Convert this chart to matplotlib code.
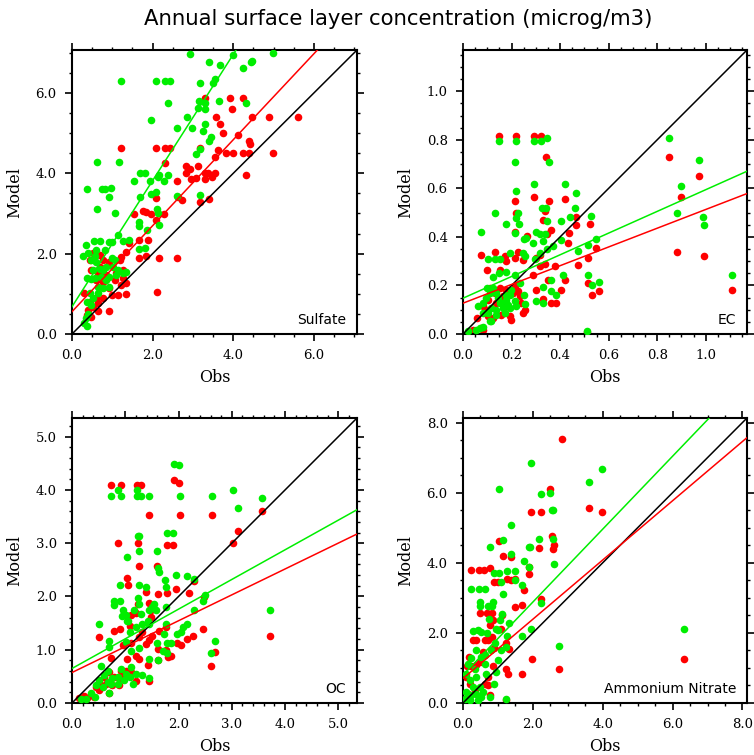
import numpy as np
import matplotlib
matplotlib.use("Agg")
import matplotlib.pyplot as plt
from matplotlib.ticker import MultipleLocator, FormatStrFormatter

title = "Annual surface layer concentration (microg/m3)"
species = ["Sulfate", "EC", "OC", "Ammonium Nitrate"]
axis_max = [7.07, 1.17, 5.35, 8.13]
major_step = [2.0, 0.2, 1.0, 2.0]
minor_step = [0.5, 0.05, 0.2, 0.5]
# regression lines (intercept, slope)
red_fit = [(0.556, 1.07), (0.127, 0.386), (0.572, 0.486), (0.70, 0.845)]
green_fit = [(0.68, 1.57), (0.1475, 0.447), (0.648, 0.557), (0.80, 1.04)]

# (obs, model) pairs
sulfate_red = [
    (3.31, 5.87), (3.91, 5.88), (4.24, 5.88), (3.97, 5.59), (3.56, 5.39), (3.68, 5.24),
    (4.47, 5.41), (4.88, 5.41), (5.61, 5.39), (3.74, 5.01), (4.12, 4.95), (4.39, 4.81),
    (4.42, 4.73), (1.21, 4.62), (2.08, 4.62), (2.30, 4.62), (2.42, 4.62), (3.17, 4.62),
    (3.62, 4.58), (3.55, 4.41), (3.81, 4.51), (3.99, 4.51), (4.24, 4.51), (4.39, 4.50),
    (4.99, 4.51), (2.31, 4.25), (2.83, 4.18), (2.93, 4.12), (3.12, 4.19), (2.82, 4.02),
    (2.94, 3.85), (3.08, 3.88), (3.31, 4.02), (3.37, 4.00), (3.31, 3.87), (3.48, 3.92),
    (3.54, 4.02), (2.60, 3.82), (4.32, 3.95), (2.09, 3.38), (2.63, 3.42), (2.74, 3.34),
    (3.18, 3.29), (3.39, 3.36), (1.55, 2.99), (1.76, 3.05), (1.83, 3.03), (1.97, 2.99),
    (2.29, 2.98), (2.09, 2.84), (1.66, 2.34), (1.88, 2.34), (1.41, 2.26), (1.35, 2.05),
    (1.22, 1.91), (1.65, 1.88), (1.84, 1.93), (2.17, 1.88), (2.60, 1.88), (2.12, 1.05),
    (0.91, 0.57), (0.64, 0.57), (0.52, 2.01), (0.69, 1.97), (0.44, 1.84), (0.77, 1.84),
    (0.93, 1.80), (1.18, 1.84), (0.48, 1.59), (0.64, 1.51), (0.85, 1.47), (1.10, 1.51),
    (1.26, 1.39), (1.35, 1.26), (1.22, 1.22), (1.14, 0.97), (1.35, 1.00), (0.98, 0.97),
    (0.77, 0.89), (0.60, 0.89), (0.44, 0.80), (0.52, 0.68), (0.40, 0.60), (0.36, 0.47),
    (0.48, 0.43), (0.64, 0.76), (0.93, 1.14), (1.06, 1.34), (0.77, 1.30), (0.60, 1.34),
    (0.31, 1.01), (1.26, 1.59), (0.69, 1.68),
]
sulfate_green = [
    (2.92, 6.97), (3.99, 6.95), (4.98, 7.00), (3.39, 6.78), (3.66, 6.70), (4.46, 6.80),
    (4.43, 6.76), (4.24, 6.63), (1.21, 6.29), (2.08, 6.29), (2.30, 6.29), (2.42, 6.29),
    (3.17, 6.24), (3.54, 6.34), (3.51, 6.26), (2.39, 5.74), (3.15, 5.81), (3.31, 5.76),
    (3.64, 5.80), (4.32, 5.74), (3.12, 5.62), (3.31, 5.60), (1.95, 5.33), (2.85, 5.39),
    (3.31, 5.24), (2.60, 5.12), (2.98, 5.14), (3.25, 5.06), (3.44, 4.91), (3.41, 4.81),
    (3.17, 4.61), (3.08, 4.48), (0.62, 4.27), (1.17, 4.27), (1.68, 4.02), (1.82, 4.02),
    (2.14, 3.92), (2.17, 3.96), (1.94, 3.82), (2.27, 3.82), (2.39, 3.97), (1.55, 3.82),
    (0.36, 3.61), (0.75, 3.61), (0.81, 3.61), (0.96, 3.64), (0.93, 3.42), (1.68, 3.42),
    (1.97, 3.49), (2.09, 3.53), (2.60, 3.43), (3.17, 3.46), (0.62, 3.10), (1.06, 3.02),
    (2.12, 3.10), (2.13, 3.02), (2.17, 2.71), (1.66, 2.80), (1.65, 2.69), (1.87, 2.59),
    (1.14, 2.46), (0.34, 2.22), (0.54, 2.31), (0.69, 2.32), (0.93, 2.30), (0.98, 2.28),
    (1.26, 2.31), (1.41, 2.33), (1.65, 2.11), (1.82, 2.14), (0.27, 1.93), (0.40, 2.01),
    (0.48, 1.84), (0.60, 1.80), (0.52, 1.59), (0.69, 1.63), (0.77, 1.59), (0.85, 1.68),
    (1.02, 1.68), (0.36, 1.39), (0.48, 1.36), (0.56, 1.39), (0.73, 1.43), (0.93, 1.43),
    (1.10, 1.47), (1.26, 1.51), (1.35, 1.55), (0.64, 1.18), (0.77, 1.14), (0.93, 1.18),
    (0.44, 1.01), (0.52, 0.89), (0.64, 1.01), (0.36, 0.80), (0.48, 0.72), (0.40, 0.51),
    (0.34, 0.39), (0.36, 0.20), (0.29, 0.27), (0.56, 1.93), (0.98, 1.88), (0.81, 2.09),
    (0.60, 2.09), (1.06, 1.84), (0.85, 1.34), (1.14, 1.59),
]
ec_red = [
    (0.147, 0.815), (0.217, 0.815), (0.293, 0.815), (0.323, 0.815), (0.341, 0.729),
    (0.847, 0.729), (0.973, 0.652), (0.899, 0.564), (0.293, 0.564), (0.213, 0.547),
    (0.353, 0.547), (0.421, 0.558), (0.217, 0.499), (0.330, 0.471), (0.337, 0.506),
    (0.465, 0.482), (0.465, 0.451), (0.522, 0.455), (0.344, 0.410), (0.362, 0.427),
    (0.437, 0.416), (0.265, 0.405), (0.213, 0.419), (0.433, 0.375), (0.546, 0.355),
    (0.882, 0.338), (0.992, 0.320), (0.073, 0.324), (0.131, 0.338), (0.227, 0.338),
    (0.316, 0.327), (0.474, 0.286), (0.515, 0.313), (0.247, 0.304), (0.172, 0.320),
    (0.213, 0.313), (0.179, 0.300), (0.302, 0.313), (0.151, 0.265), (0.099, 0.265),
    (0.316, 0.279), (0.337, 0.290), (0.378, 0.282), (0.289, 0.245), (0.351, 0.224),
    (0.419, 0.224), (0.300, 0.183), (0.405, 0.183), (0.330, 0.144), (0.364, 0.128),
    (0.385, 0.128), (0.515, 0.210), (0.533, 0.162), (0.561, 0.176), (1.107, 0.183),
    (0.509, 0.007), (0.073, 0.023), (0.082, 0.018), (0.041, 0.018), (0.059, 0.066),
    (0.082, 0.114), (0.103, 0.142), (0.110, 0.190), (0.131, 0.169), (0.151, 0.190),
    (0.179, 0.183), (0.206, 0.169), (0.234, 0.155), (0.103, 0.073), (0.124, 0.066),
    (0.158, 0.080), (0.192, 0.073), (0.199, 0.059), (0.247, 0.087), (0.254, 0.098),
    (0.137, 0.128), (0.179, 0.114), (0.213, 0.197), (0.227, 0.176), (0.240, 0.128),
    (0.096, 0.100), (0.165, 0.155),
]
ec_green = [
    (0.147, 0.797), (0.217, 0.797), (0.293, 0.797), (0.323, 0.797), (0.344, 0.808),
    (0.847, 0.808), (0.973, 0.716), (0.355, 0.709), (0.213, 0.709), (0.899, 0.609),
    (0.882, 0.499), (0.990, 0.481), (0.992, 0.451), (1.107, 0.245), (0.293, 0.619),
    (0.217, 0.591), (0.421, 0.616), (0.467, 0.579), (0.131, 0.499), (0.227, 0.499),
    (0.176, 0.454), (0.327, 0.520), (0.341, 0.520), (0.463, 0.520), (0.440, 0.481),
    (0.405, 0.465), (0.346, 0.465), (0.220, 0.478), (0.231, 0.454), (0.073, 0.419),
    (0.213, 0.416), (0.302, 0.419), (0.316, 0.412), (0.337, 0.410), (0.330, 0.385),
    (0.405, 0.389), (0.526, 0.485), (0.515, 0.366), (0.546, 0.392), (0.474, 0.341),
    (0.371, 0.362), (0.261, 0.396), (0.252, 0.392), (0.192, 0.334), (0.131, 0.307),
    (0.154, 0.309), (0.103, 0.309), (0.247, 0.334), (0.254, 0.320), (0.296, 0.307),
    (0.316, 0.334), (0.344, 0.351), (0.289, 0.375), (0.179, 0.254), (0.148, 0.252),
    (0.124, 0.235), (0.099, 0.190), (0.214, 0.245), (0.234, 0.210), (0.252, 0.162),
    (0.254, 0.124), (0.300, 0.135), (0.330, 0.128), (0.330, 0.192), (0.362, 0.221),
    (0.364, 0.176), (0.385, 0.162), (0.410, 0.245), (0.515, 0.245), (0.533, 0.203),
    (0.561, 0.214), (0.509, 0.011), (0.062, 0.114), (0.082, 0.128), (0.096, 0.148),
    (0.110, 0.169), (0.124, 0.190), (0.137, 0.169), (0.144, 0.148), (0.158, 0.128),
    (0.179, 0.142), (0.192, 0.162), (0.199, 0.183), (0.213, 0.135), (0.117, 0.107),
    (0.137, 0.100), (0.165, 0.107), (0.192, 0.107), (0.220, 0.114), (0.103, 0.087),
    (0.137, 0.080), (0.172, 0.087), (0.110, 0.052), (0.151, 0.128), (0.186, 0.121),
    (0.179, 0.162), (0.082, 0.087), (0.021, 0.011), (0.055, 0.015), (0.069, 0.025),
    (0.082, 0.029), (0.114, 0.052),
]
oc_red = [
    (0.74, 4.09), (0.92, 4.09), (1.22, 4.09), (1.29, 4.09), (1.92, 4.18), (2.01, 4.13),
    (1.44, 3.52), (2.03, 3.52), (2.62, 3.52), (3.56, 3.61), (3.11, 3.22), (3.02, 3.01),
    (0.86, 3.01), (1.23, 3.01), (1.78, 2.97), (1.89, 2.97), (1.26, 2.58), (1.59, 2.58),
    (1.03, 2.35), (1.06, 2.22), (2.29, 2.29), (2.20, 2.07), (1.96, 2.14), (1.39, 2.09),
    (1.62, 2.04), (1.78, 2.06), (1.44, 1.88), (1.24, 1.86), (1.48, 1.74), (1.20, 1.69),
    (1.11, 1.66), (1.48, 1.61), (2.47, 1.99), (2.45, 1.38), (2.28, 1.25), (2.16, 1.21),
    (2.04, 1.09), (1.98, 1.13), (0.51, 1.24), (0.78, 1.36), (0.91, 1.38), (1.08, 1.44),
    (1.31, 1.33), (1.26, 1.24), (1.64, 1.36), (1.76, 1.43), (1.51, 1.25), (1.44, 1.19),
    (0.95, 1.08), (1.11, 1.13), (1.38, 1.10), (1.62, 1.02), (1.76, 1.00), (1.80, 0.86),
    (1.86, 0.88), (1.62, 0.80), (0.74, 0.85), (1.04, 0.83), (1.21, 0.89), (1.26, 0.83),
    (1.43, 0.71), (2.69, 0.96), (2.61, 0.69), (3.71, 1.25), (0.69, 0.18), (0.45, 0.30),
    (0.51, 0.39), (0.61, 0.49), (0.70, 0.58), (0.79, 0.49), (0.89, 0.46), (0.98, 0.49),
    (1.01, 0.61), (0.92, 0.61), (0.64, 0.36), (0.76, 0.33), (0.89, 0.33), (1.20, 0.41),
    (1.44, 0.41), (1.11, 0.58), (0.51, 0.24), (0.42, 0.11), (0.23, 0.13), (0.14, 0.10),
    (0.29, 0.10),
]
oc_green = [
    (1.92, 4.49), (2.01, 4.46), (0.74, 3.89), (0.86, 3.99), (0.92, 3.89), (1.22, 3.99),
    (1.22, 3.89), (1.29, 3.89), (1.44, 3.89), (2.03, 3.89), (2.62, 3.89), (3.02, 3.99),
    (3.56, 3.84), (3.11, 3.66), (1.78, 3.19), (1.89, 3.19), (1.23, 3.13), (1.26, 3.13),
    (1.26, 2.86), (1.59, 2.86), (1.03, 2.75), (1.61, 2.54), (1.64, 2.46), (1.95, 2.41),
    (2.16, 2.39), (1.74, 2.31), (0.91, 2.22), (1.26, 2.22), (1.39, 2.18), (1.76, 2.18),
    (2.29, 2.33), (0.78, 1.91), (0.90, 1.91), (0.78, 1.84), (1.24, 1.97), (1.25, 1.86),
    (1.54, 1.86), (1.50, 1.80), (1.76, 1.81), (1.58, 1.74), (1.45, 1.74), (0.95, 1.75),
    (0.94, 1.64), (1.01, 1.66), (1.17, 1.74), (1.29, 1.68), (1.06, 1.54), (1.03, 1.54),
    (2.29, 1.75), (2.45, 1.91), (2.49, 2.03), (3.71, 1.75), (0.51, 1.49), (1.42, 1.53),
    (1.31, 1.49), (1.44, 1.49), (1.08, 1.33), (1.21, 1.43), (1.76, 1.49), (2.16, 1.49),
    (2.09, 1.43), (2.04, 1.33), (1.98, 1.29), (1.73, 1.29), (1.59, 1.13), (1.79, 1.13),
    (1.86, 1.13), (0.69, 1.16), (0.70, 1.05), (1.01, 1.14), (1.26, 1.04), (1.11, 0.98),
    (1.44, 0.82), (1.61, 0.80), (1.70, 0.98), (1.79, 0.93), (2.69, 1.16), (2.61, 0.94),
    (0.54, 0.69), (1.20, 0.55), (1.31, 0.52), (1.44, 0.47), (0.45, 0.33), (0.51, 0.43),
    (0.61, 0.52), (0.67, 0.61), (0.76, 0.46), (0.86, 0.49), (0.92, 0.64), (1.01, 0.55),
    (1.11, 0.68), (0.73, 0.36), (0.86, 0.36), (0.98, 0.43), (0.58, 0.30), (0.70, 0.18),
    (0.67, 0.39), (1.08, 0.49), (0.36, 0.18), (0.44, 0.11), (0.17, 0.08), (0.26, 0.08),
    (1.14, 0.36),
]
nitrate_red = [
    (2.83, 7.52), (2.50, 6.10), (3.62, 5.57), (3.98, 5.46), (1.96, 5.46), (2.22, 5.44),
    (1.02, 4.62), (2.54, 4.76), (2.60, 4.50), (2.57, 4.40), (2.17, 4.41), (1.14, 4.19),
    (1.38, 4.17), (1.90, 3.87), (1.90, 3.68), (0.24, 3.79), (0.46, 3.79), (0.59, 3.79),
    (0.76, 3.86), (0.89, 3.44), (1.00, 3.44), (1.26, 3.55), (1.36, 3.50), (1.50, 3.55),
    (1.76, 3.22), (2.24, 2.98), (1.50, 2.74), (1.70, 2.79), (0.48, 2.57), (0.69, 2.57),
    (0.83, 2.57), (0.86, 2.36), (1.12, 2.50), (0.76, 2.22), (0.84, 1.89), (1.10, 2.12),
    (0.29, 1.79), (0.38, 1.79), (0.62, 1.79), (0.71, 1.79), (0.90, 1.58), (1.24, 1.70),
    (1.33, 1.55), (1.97, 1.25), (2.76, 0.97), (1.70, 0.84), (1.24, 0.98), (1.30, 0.84),
    (6.33, 1.25), (0.11, 1.05), (0.24, 1.05), (0.38, 1.08), (0.86, 1.05), (0.71, 0.74),
    (0.62, 0.55), (0.71, 0.50), (0.76, 0.22), (0.48, 1.17), (0.17, 1.31), (0.57, 1.46),
    (1.24, 0.08), (0.10, 0.74), (0.19, 0.55), (0.33, 0.36), (0.14, 0.27), (0.48, 0.17),
    (0.08, 0.12),
]
nitrate_green = [
    (1.96, 6.86), (3.98, 6.67), (3.62, 6.30), (1.02, 6.10), (2.22, 5.95), (2.50, 6.00),
    (2.54, 5.50), (2.59, 5.50), (1.38, 5.08), (2.17, 4.68), (2.57, 4.68), (1.14, 4.65),
    (0.76, 4.46), (1.89, 4.46), (1.92, 4.46), (1.36, 4.25), (1.76, 4.05), (1.90, 3.89),
    (2.60, 3.96), (0.89, 3.70), (1.02, 3.70), (1.26, 3.77), (1.49, 3.77), (1.10, 3.44),
    (1.50, 3.50), (1.70, 3.38), (0.24, 3.24), (0.46, 3.24), (0.62, 3.24), (1.14, 3.12),
    (2.24, 2.86), (0.48, 2.89), (0.48, 2.77), (0.71, 2.77), (0.86, 2.89), (0.83, 2.77),
    (0.74, 2.41), (1.05, 2.36), (1.12, 2.55), (1.33, 2.27), (0.29, 2.05), (0.43, 2.08),
    (0.52, 2.03), (0.69, 2.00), (0.95, 2.12), (1.00, 2.08), (1.96, 2.10), (1.27, 1.90),
    (1.69, 1.90), (0.38, 1.52), (0.81, 1.52), (0.93, 1.70), (1.08, 1.52), (1.24, 1.60),
    (2.76, 1.62), (6.33, 2.10), (0.52, 1.31), (0.62, 1.36), (0.24, 1.27), (1.00, 1.22),
    (0.95, 0.89), (0.90, 0.55), (0.76, 0.17), (1.24, 0.12), (0.10, 0.84), (0.19, 0.65),
    (0.38, 0.74), (0.29, 0.46), (0.48, 0.46), (0.10, 0.31), (0.24, 0.22), (0.38, 0.27),
    (0.52, 0.17), (0.05, 0.12), (0.19, 0.08), (0.43, 0.08), (0.57, 0.31), (0.33, 0.98),
    (0.14, 1.12), (0.67, 0.84), (0.62, 1.12),
]
red_sets = [sulfate_red, ec_red, oc_red, nitrate_red]
green_sets = [sulfate_green, ec_green, oc_green, nitrate_green]

W, H = 754, 755
fig = plt.figure(figsize=(W / 100, H / 100), dpi=100)
fig.patch.set_facecolor("white")

# panel boxes in pixels: left, top, right, bottom
boxes = [(72, 50, 357, 334), (463, 50, 747, 334), (72, 418, 357, 703), (463, 418, 747, 703)]
label_font = "DejaVu Serif"

for i, (l, t, r, b) in enumerate(boxes):
    ax = fig.add_axes([l / W, 1 - b / H, (r - l) / W, (b - t) / H])
    vmax = axis_max[i]
    red = np.array(red_sets[i]).T
    grn = np.array(green_sets[i]).T
    ax.scatter(red[0], red[1], s=30, color="#ff0000", linewidths=0, zorder=2)
    ax.scatter(grn[0], grn[1], s=30, color="#00ee00", linewidths=0, zorder=3)
    xx = np.array([0, vmax])
    ax.plot(xx, xx, color="black", lw=1.1, zorder=4)
    ax.plot(xx, green_fit[i][0] + green_fit[i][1] * xx, color="#00ee00", lw=1.1, zorder=4)
    ax.plot(xx, red_fit[i][0] + red_fit[i][1] * xx, color="#ff0000", lw=1.1, zorder=4)
    ax.set_xlim(0, vmax)
    ax.set_ylim(0, vmax)
    for axis in (ax.xaxis, ax.yaxis):
        axis.set_major_locator(MultipleLocator(major_step[i]))
        axis.set_minor_locator(MultipleLocator(minor_step[i]))
        axis.set_major_formatter(FormatStrFormatter("%.1f"))
    ax.tick_params(which="both", direction="out", top=True, right=True,
                   labeltop=False, labelright=False, colors="black")
    ax.tick_params(which="major", length=5, width=1.2, labelsize=9.5, pad=6)
    ax.tick_params(which="minor", length=2.5, width=1.0)
    for lab in ax.get_xticklabels() + ax.get_yticklabels():
        lab.set_family(label_font)
    for sp in ax.spines.values():
        sp.set_linewidth(1.5)
    ax.set_xlabel("Obs", family=label_font, fontsize=11.5, labelpad=5)
    ax.set_ylabel("Model", family=label_font, fontsize=11.5, labelpad=9)
    ax.text(0.962, 0.035, species[i], transform=ax.transAxes, ha="right", va="baseline",
            fontsize=10, family="DejaVu Sans", zorder=5)

fig.text(398 / W, 1 - 19 / H, title, ha="center", va="center", fontsize=15.3, family="DejaVu Sans")
fig.savefig("out.png", dpi=100)
